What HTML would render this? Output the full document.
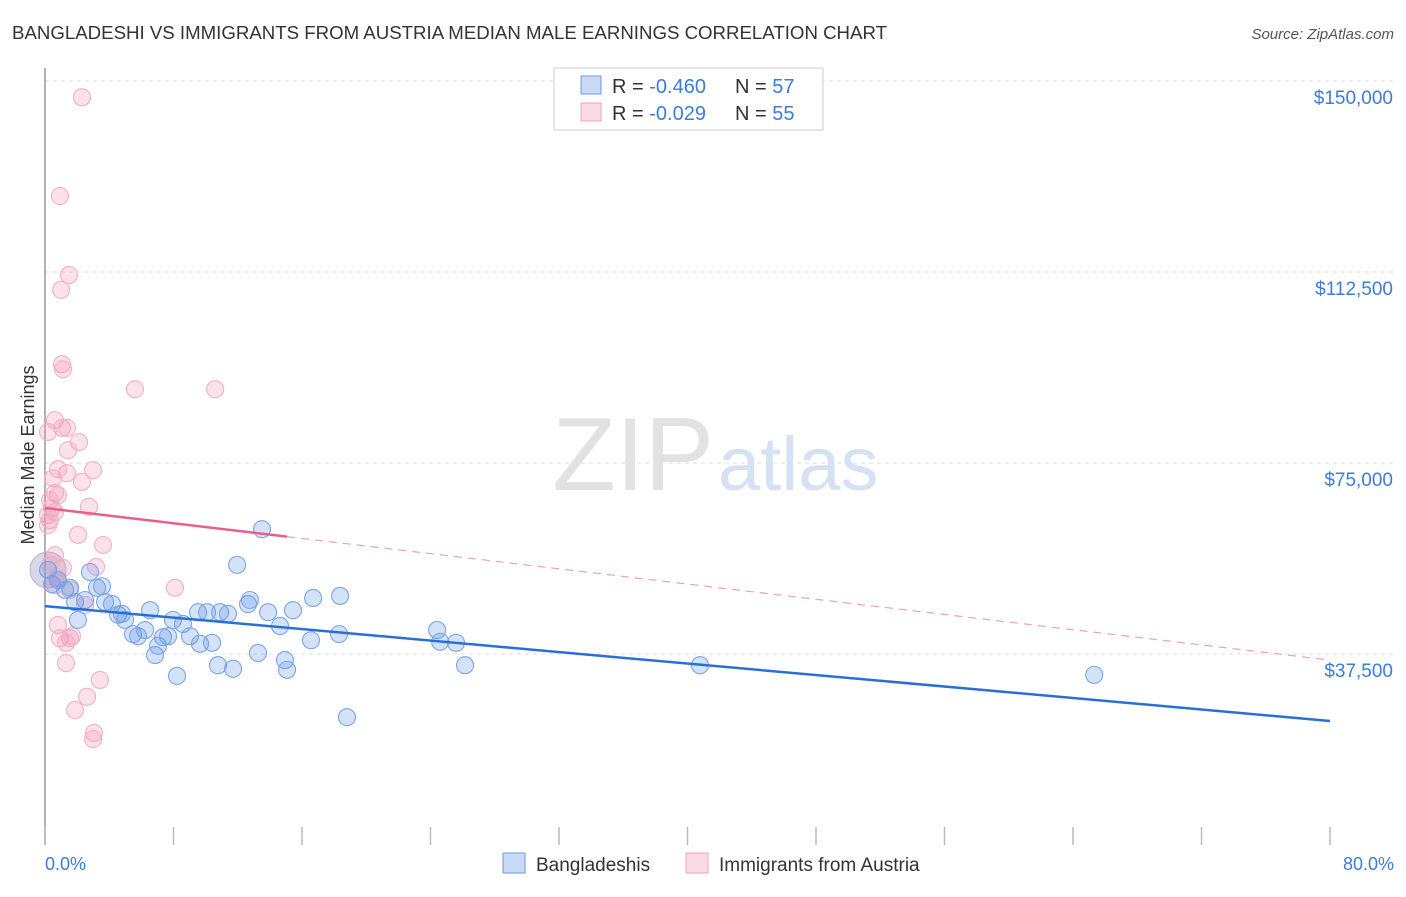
<!DOCTYPE html>
<html><head><meta charset="utf-8"><style>
body{margin:0;background:#fff;font-family:"Liberation Sans",Arial,sans-serif;}
svg text{font-family:"Liberation Sans",Arial,sans-serif;}
</style></head><body>
<svg id="c" width="1406" height="892" viewBox="0 0 1406 892" xmlns="http://www.w3.org/2000/svg">
<text x="12" y="39" font-size="18" fill="#333" textLength="875" lengthAdjust="spacingAndGlyphs">BANGLADESHI VS IMMIGRANTS FROM AUSTRIA MEDIAN MALE EARNINGS CORRELATION CHART</text>
<text x="1394" y="39" font-size="15" fill="#555" font-style="italic" text-anchor="end">Source: ZipAtlas.com</text>
<g id="grid"></g>
<text x="714" y="490" font-size="104" fill="#e2e2e2" font-family="Liberation Serif" text-anchor="end">ZIP</text>
<text x="718" y="490" font-size="76" fill="#d4e2f4">atlas</text>
<line x1="45" y1="68" x2="45" y2="845" stroke="#999" stroke-width="1.5"/>
<g id="ticks"></g>
<g id="yl"></g>
<text transform="translate(34,455) rotate(-90)" font-size="18" fill="#333" text-anchor="middle">Median Male Earnings</text>
<text x="45" y="870" font-size="18" fill="#3b7dd8">0.0%</text>
<text x="1394" y="870" font-size="18" fill="#3b7dd8" text-anchor="end">80.0%</text>
<g id="pts"></g>
<g id="lines"></g>
<g>
<rect x="554" y="68" width="269" height="62" fill="#fff" stroke="#ccc"/>
<rect x="581" y="76" width="20" height="18" fill="rgba(100,150,230,0.35)" stroke="#6a9be0"/>
<rect x="581" y="103" width="20" height="18" fill="rgba(240,150,180,0.35)" stroke="#f0a0bc"/>
<text x="612" y="93" font-size="20" fill="#333">R = <tspan fill="#3b7dd8">-0.460</tspan></text>
<text x="735" y="93" font-size="20" fill="#333">N = <tspan fill="#3b7dd8">57</tspan></text>
<text x="612" y="120" font-size="20" fill="#333">R = <tspan fill="#3b7dd8">-0.029</tspan></text>
<text x="735" y="120" font-size="20" fill="#333">N = <tspan fill="#3b7dd8">55</tspan></text>
</g>
<g>
<rect x="503" y="853" width="22" height="20" fill="rgba(100,150,230,0.35)" stroke="#6a9be0"/>
<text x="536" y="871" font-size="19" fill="#333">Bangladeshis</text>
<rect x="686" y="853" width="22" height="20" fill="rgba(240,150,180,0.35)" stroke="#f0a0bc"/>
<text x="719" y="871" font-size="19" fill="#333">Immigrants from Austria</text>
</g>
</svg>
<script>
const yTicks=[37500,75000,112500,150000];
const yTickLabels=["$37,500","$75,000","$112,500","$150,000"];
const blueX=[0.19,0.44,0.81,1.25,1.56,1.87,2.05,2.49,2.80,3.24,3.55,3.74,4.17,4.55,4.79,4.98,5.48,5.79,6.23,6.54,6.85,7.04,7.35,7.66,7.97,8.22,8.59,9.03,9.53,9.65,10.09,10.40,10.77,10.90,11.39,11.71,11.96,12.64,12.76,13.26,13.51,13.89,14.63,14.94,15.07,15.44,16.56,16.69,18.31,18.37,18.80,24.41,24.60,25.59,26.15,40.78,65.32];
const blueY=[54.0,51.2,52.0,50.1,50.5,47.7,44.2,48.1,53.6,50.5,50.8,47.7,47.3,45.2,45.4,44.2,41.4,41.0,42.2,46.1,37.3,39.1,40.8,41.0,44.2,33.2,43.4,41.0,45.7,39.5,45.7,39.7,35.3,45.7,45.4,34.6,55.0,47.3,48.1,37.7,62.0,45.7,43.0,36.3,34.4,46.1,40.2,48.5,41.4,48.9,25.1,42.2,39.9,39.7,35.3,35.3,33.4];
const pinkX=[2.30,0.93,1.49,1.00,1.06,1.12,5.60,10.59,0.62,1.06,1.37,0.19,2.12,1.43,1.37,0.81,2.99,2.30,0.50,0.62,0.81,0.31,0.44,0.62,0.19,0.31,2.74,2.05,3.61,3.18,1.12,0.75,1.56,0.62,8.09,2.49,0.81,0.93,1.56,1.31,1.68,1.31,3.42,2.62,1.87,3.05,2.99,0.31,0.62,0.19];
const pinkY=[146.8,127.4,111.9,109.0,94.4,93.4,89.5,89.5,83.4,81.9,81.9,81.1,79.1,77.5,73.0,73.8,73.6,71.3,72.0,69.1,68.7,67.7,66.2,65.4,64.8,63.8,66.4,60.9,58.9,54.6,54.4,52.4,50.1,51.0,50.5,47.1,43.2,40.6,40.6,39.7,41.0,35.7,32.4,29.1,26.5,22.0,20.8,55.0,56.9,62.8];
const blueTrend=[46.9,24.35];
const pinkTrend=[66.16,36.3];
const pinkSolidEnd=15.07;
const NS="http://www.w3.org/2000/svg";
function xs(p){return 45+p/80*1285;}
function ys(v){return 654-(v-37.5)/37.5*191;}
function mk(tag,attrs,parent){const e=document.createElementNS(NS,tag);for(const k in attrs)e.setAttribute(k,attrs[k]);document.getElementById(parent).appendChild(e);return e;}
yTicks.forEach((t,i)=>{
 const l=mk('line',{x1:45,x2:1394,y1:ys(t/1000),y2:ys(t/1000),stroke:'#ddd','stroke-dasharray':'4,4'},'grid');
 
 
 const tx=mk('text',{x:1393,y:ys(t/1000)+23,'font-size':19,fill:'#3b7dd8','text-anchor':'end'},'yl');
 tx.textContent=yTickLabels[i];
 
 
});
for(let i=0;i<=10;i++){
 const l=mk('line',{x1:xs(i*8),x2:xs(i*8),y1:827,y2:845,stroke:'#bbb','stroke-width':1.5},'ticks');
 
 
}
const big=mk('circle',{cx:xs(0.19),cy:ys(54.0),r:18,fill:'rgba(150,140,190,0.35)',stroke:'#b9b0d8'},'pts');


pinkX.forEach((x,i)=>{
 const c=mk('circle',{cx:xs(x),cy:ys(pinkY[i]),r:8.5,fill:'rgba(240,150,180,0.28)',stroke:'#f3b0c6','stroke-width':1.1},'pts');
 
 
});
blueX.forEach((x,i)=>{
 const c=mk('circle',{cx:xs(x),cy:ys(blueY[i]),r:8.5,fill:'rgba(100,150,230,0.28)',stroke:'#7aa6e4','stroke-width':1.1},'pts');
 
 
});
const pv=p=>pinkTrend[0]+(pinkTrend[1]-pinkTrend[0])*p/80;
let l1=mk('line',{x1:xs(0),y1:ys(pinkTrend[0]),x2:xs(pinkSolidEnd),y2:ys(pv(pinkSolidEnd)),stroke:'#e8608a','stroke-width':2.5},'lines');


let l2=mk('line',{x1:xs(pinkSolidEnd),y1:ys(pv(pinkSolidEnd)),x2:xs(80),y2:ys(pinkTrend[1]),stroke:'#eea0b8','stroke-width':1.2,'stroke-dasharray':'8,6'},'lines');


let l3=mk('line',{x1:xs(0),y1:ys(blueTrend[0]),x2:xs(80),y2:ys(blueTrend[1]),stroke:'#2a6fd6','stroke-width':2.5},'lines');


</script>
</body></html>
